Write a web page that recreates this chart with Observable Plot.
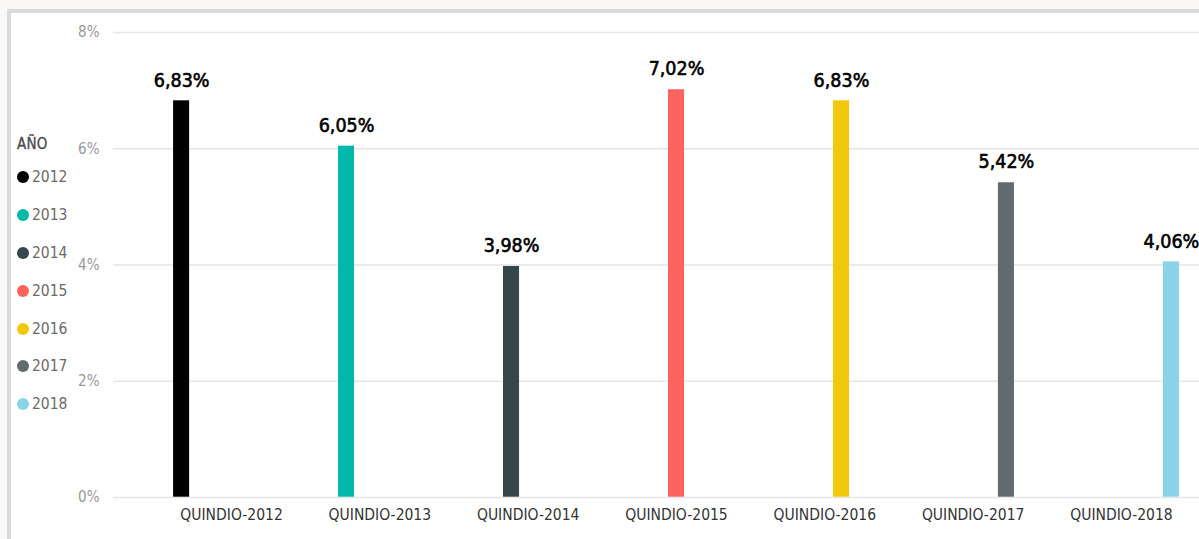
<!DOCTYPE html>
<html>
<head>
<meta charset="utf-8">
<script src="https://cdn.jsdelivr.net/npm/d3@7"></script>
<script src="https://cdn.jsdelivr.net/npm/@observablehq/plot@0.6"></script>
<style>
  html, body { margin: 0; padding: 0; }
  body { width: 1199px; height: 539px; overflow: hidden; background: #f9f8f6; position: relative;
         font-family: "DejaVu Sans Condensed", "Liberation Sans Narrow", "Roboto", sans-serif; }
  #panel { position: absolute; left: 7px; top: 9px; width: 1300px; height: 600px; background: #fff;
           border-left: 4px solid #dadada; border-top: 4px solid #dadada; }
  .layer { position: absolute; left: 0; top: 0; width: 1239px; height: 539px; }
  .layer svg { overflow: visible; background: transparent; max-width: none !important; width: 1239px; height: 539px; }
  #legend { position: absolute; left: 17px; top: 135px; }
  #legend .title { font-size: 15px; font-weight: normal; color: #4a4a4a; height: 23px; letter-spacing: 0.2px; -webkit-text-stroke: 0.3px #4a4a4a; }
  #legend .row { display: flex; align-items: center; height: 37.9px; font-size: 15.5px; color: #6a6a6a; }
  #legend .dot { width: 12px; height: 12px; border-radius: 50%; margin: 0 3px 0 0; }
</style>
</head>
<body>
<div id="panel"></div>
<div id="base" class="layer"></div>
<div id="bars" class="layer"></div>
<div id="legend"></div>
<script>
const categories = ["QUINDIO-2012", "QUINDIO-2013", "QUINDIO-2014", "QUINDIO-2015", "QUINDIO-2016", "QUINDIO-2017", "QUINDIO-2018"];
const years = ["2012", "2013", "2014", "2015", "2016", "2017", "2018"];
const values = [6.83, 6.05, 3.98, 7.02, 6.83, 5.42, 4.06];
const colors = ["#000000", "#01B8AA", "#374649", "#FD625E", "#F2C80F", "#5F6B6D", "#8AD4EB"];
const yTicks = [0, 2, 4, 6, 8];
const legendTitle = "AÑO";

const data = categories.map((c, i) => ({cat: c, year: years[i], value: values[i]}));
const fmt = v => v.toFixed(2).replace(".", ",") + "%";

const W = 1239, H = 539, ML = 113, MR = 0, MT = 32, MB = 42;
const font = '"DejaVu Sans Condensed", "Liberation Sans Narrow", Roboto, sans-serif';

const base = Plot.plot({
  width: W, height: H, marginLeft: ML, marginRight: MR, marginTop: MT, marginBottom: MB,
  style: {fontFamily: font, background: "transparent"},
  y: {domain: [0, 8]},
  marks: [
    Plot.ruleY(yTicks, {stroke: "#e6e6e6", strokeWidth: 1.3}),
    Plot.axisY(yTicks, {tickSize: 0, tickPadding: 14, tickFormat: d => d + "%", fill: "#999", fontSize: 15, label: null})
  ]
});
document.getElementById("base").appendChild(base);

const chart = Plot.plot({
  width: W, height: H, marginLeft: ML, marginRight: MR, marginTop: MT, marginBottom: MB,
  facet: {marginTop: 0, marginRight: 0, marginBottom: 0, marginLeft: 0},
  style: {fontFamily: font, background: "transparent"},
  fx: {domain: categories, paddingInner: 0.214, paddingOuter: 0.403, round: false, label: null},
  x: {domain: years, padding: 0, round: false, axis: null},
  y: {domain: [0, 8], axis: null},
  color: {domain: years, range: colors},
  marks: [
    Plot.axisFx({anchor: "bottom", tickSize: 0, tickPadding: 11, fontSize: 15.5, fill: "#333", label: null}),
    Plot.barY(data, {fx: "cat", x: "year", y: "value", fill: "year", inset: 0.3}),
    Plot.text(data, {fx: "cat", x: "year", y: "value", text: d => fmt(d.value), dy: -14, lineAnchor: "bottom",
      fontSize: 19.5, fontWeight: "normal", fill: "#000", stroke: "#000", strokeWidth: 0.6})
  ]
});
document.getElementById("bars").appendChild(chart);

const lg = document.getElementById("legend");
const t = document.createElement("div"); t.className = "title"; t.textContent = legendTitle; lg.appendChild(t);
years.forEach((y, i) => {
  const r = document.createElement("div"); r.className = "row";
  const d = document.createElement("span"); d.className = "dot"; d.style.background = colors[i];
  const s = document.createElement("span"); s.textContent = y;
  r.appendChild(d); r.appendChild(s); lg.appendChild(r);
});
</script>
</body>
</html>
